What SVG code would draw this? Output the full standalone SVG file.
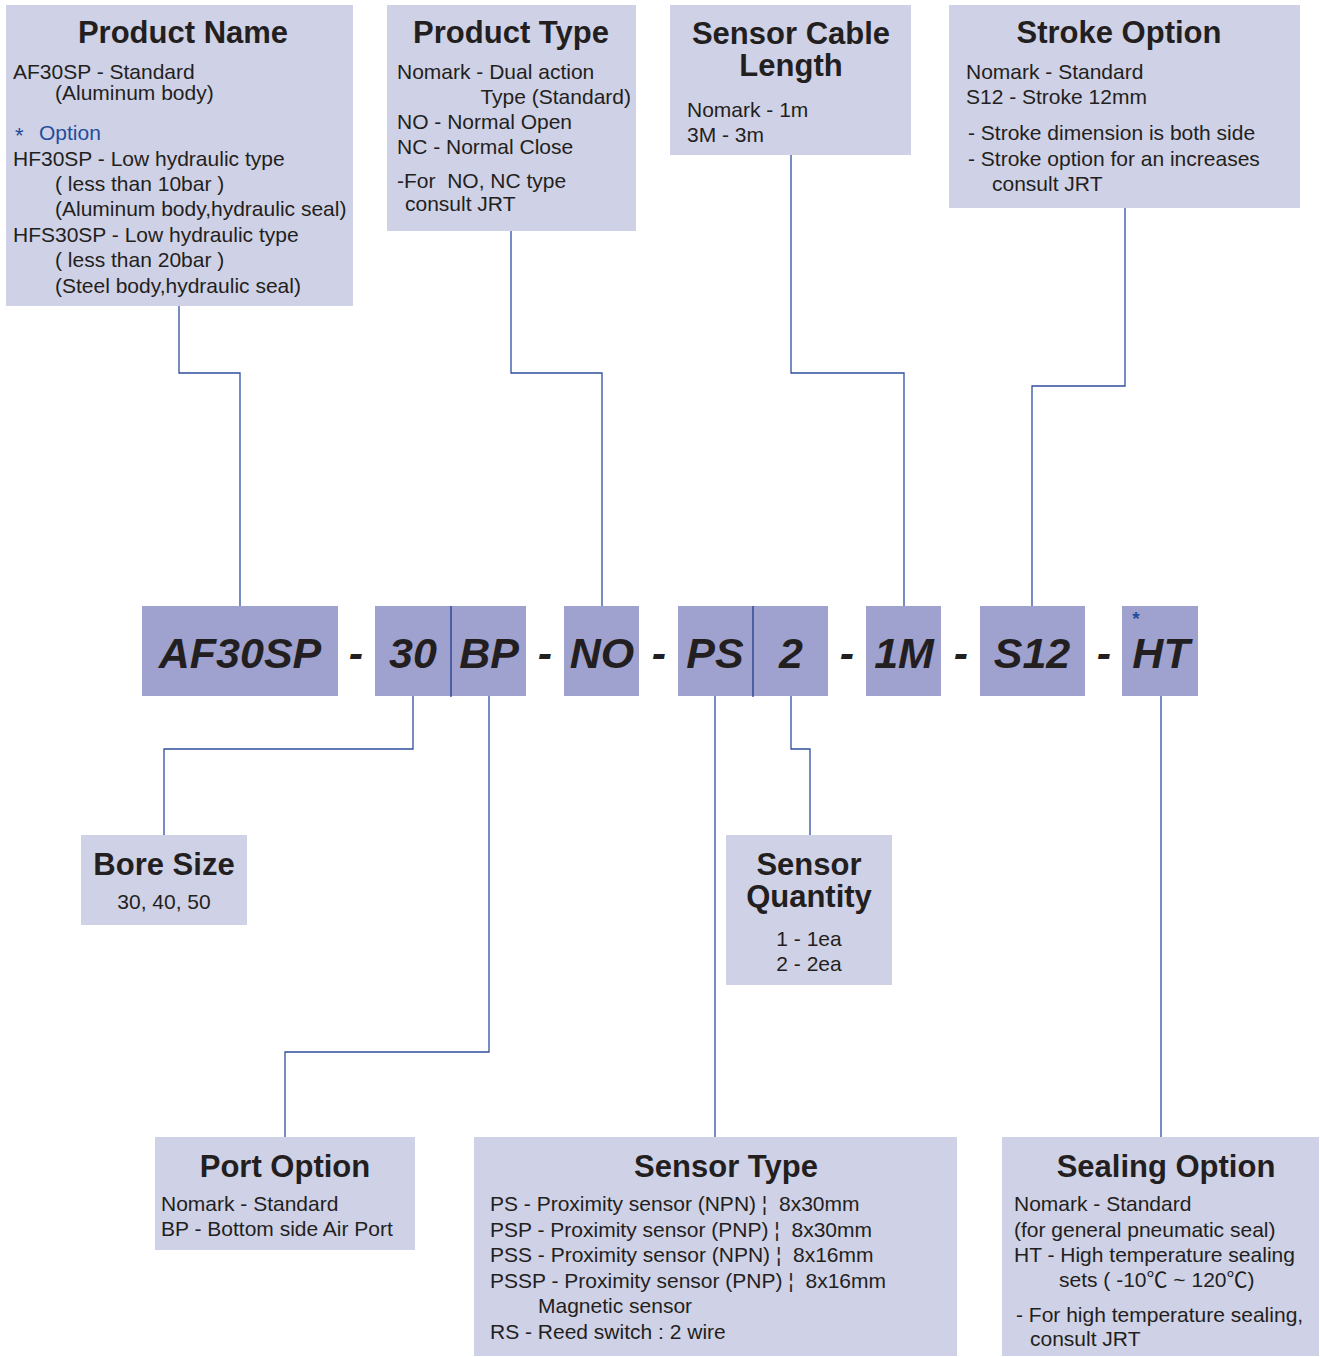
<svg xmlns="http://www.w3.org/2000/svg" width="1320" height="1357" viewBox="0 0 1320 1357">
<style>
.box{fill:#cfd1e6}
.code{fill:#9fa2cf}
.t{font-family:"Liberation Sans",Arial,sans-serif;font-weight:bold;font-size:31px;fill:#231f20;text-anchor:middle}
.b{font-family:"Liberation Sans",Arial,"Noto Sans CJK SC",sans-serif;font-size:21px;fill:#231f20;white-space:pre}
.c{text-anchor:middle}
.m{font-family:"Liberation Sans",Arial,sans-serif;font-weight:bold;font-style:italic;font-size:43px;fill:#231f20;text-anchor:middle}
.blue{fill:#1f4e9c}
.ln{fill:none;stroke:#2e4f9f;stroke-width:1.3}
.div{stroke:#1f3c8c;stroke-width:1.3}
</style>
<rect width="1320" height="1357" fill="#ffffff"/>
<g id="connectors">
<polyline class="ln" points="179,306 179,373 240,373 240,606"/>
<polyline class="ln" points="511,231 511,373 602,373 602,606"/>
<polyline class="ln" points="791,155 791,373 904,373 904,606"/>
<polyline class="ln" points="1125,208 1125,386 1032,386 1032,606"/>
<polyline class="ln" points="413,696 413,749 164,749 164,835"/>
<polyline class="ln" points="489,696 489,1052 285,1052 285,1137"/>
<polyline class="ln" points="715,696 715,1137"/>
<polyline class="ln" points="791,696 791,749 810,749 810,835"/>
<polyline class="ln" points="1161,696 1161,1137"/>
</g>
<g id="product-name">
<rect class="box" x="6" y="5" width="347" height="301"/>
<text class="t" x="183" y="43">Product Name</text>
<text class="b" x="13" y="79">AF30SP - Standard</text>
<text class="b" x="55" y="100">(Aluminum body)</text>
<text class="b blue" x="15" y="143" style="font-size:22px">*</text>
<text class="b blue" x="39" y="140">Option</text>
<text class="b" x="13" y="166">HF30SP - Low hydraulic type</text>
<text class="b" x="55" y="191">( less than 10bar )</text>
<text class="b" x="55" y="216">(Aluminum body,hydraulic seal)</text>
<text class="b" x="13" y="242">HFS30SP - Low hydraulic type</text>
<text class="b" x="55" y="267">( less than 20bar )</text>
<text class="b" x="55" y="293">(Steel body,hydraulic seal)</text>
</g>
<g id="product-type">
<rect class="box" x="387" y="5" width="249" height="226"/>
<text class="t" x="511" y="43">Product Type</text>
<text class="b" x="397" y="79">Nomark - Dual action</text>
<text class="b" x="631" y="104" style="text-anchor:end">Type (Standard)</text>
<text class="b" x="397" y="129">NO - Normal Open</text>
<text class="b" x="397" y="154">NC - Normal Close</text>
<text class="b" x="397" y="188">-For  NO, NC type</text>
<text class="b" x="405" y="211">consult JRT</text>
</g>
<g id="sensor-cable-length">
<rect class="box" x="670" y="5" width="241" height="150"/>
<text class="t" x="791" y="44">Sensor Cable</text>
<text class="t" x="791" y="76">Length</text>
<text class="b" x="687" y="117">Nomark - 1m</text>
<text class="b" x="687" y="142">3M - 3m</text>
</g>
<g id="stroke-option">
<rect class="box" x="949" y="5" width="351" height="203"/>
<text class="t" x="1119" y="43">Stroke Option</text>
<text class="b" x="966" y="79">Nomark - Standard</text>
<text class="b" x="966" y="104">S12 - Stroke 12mm</text>
<text class="b" x="968" y="140">- Stroke dimension is both side</text>
<text class="b" x="968" y="166">- Stroke option for an increases</text>
<text class="b" x="992" y="191">consult JRT</text>
</g>
<g id="code">
<rect class="code" x="142" y="606" width="196" height="90"/>
<text class="m" x="240" y="668">AF30SP</text>
<text class="m" x="356" y="668">-</text>
<rect class="code" x="375" y="606" width="151" height="90"/>
<line class="div" x1="451" y1="606" x2="451" y2="697"/>
<text class="m" x="413" y="668">30</text>
<text class="m" x="489" y="668">BP</text>
<text class="m" x="545" y="668">-</text>
<rect class="code" x="564" y="606" width="75" height="90"/>
<text class="m" x="602" y="668">NO</text>
<text class="m" x="659" y="668">-</text>
<rect class="code" x="678" y="606" width="150" height="90"/>
<line class="div" x1="753" y1="606" x2="753" y2="697"/>
<text class="m" x="715" y="668">PS</text>
<text class="m" x="791" y="668">2</text>
<text class="m" x="847" y="668">-</text>
<rect class="code" x="866" y="606" width="75" height="90"/>
<text class="m" x="904" y="668">1M</text>
<text class="m" x="961" y="668">-</text>
<rect class="code" x="980" y="606" width="105" height="90"/>
<text class="m" x="1032" y="668">S12</text>
<text class="m" x="1104" y="668">-</text>
<rect class="code" x="1122" y="606" width="76" height="90"/>
<text class="m" x="1161" y="668">HT</text>
<text class="m blue" x="1136" y="625" style="font-size:19px;font-style:normal">*</text>
</g>
<g id="bore-size">
<rect class="box" x="81" y="835" width="166" height="90"/>
<text class="t" x="164" y="875">Bore Size</text>
<text class="b c" x="164" y="909">30, 40, 50</text>
</g>
<g id="sensor-quantity">
<rect class="box" x="726" y="835" width="166" height="150"/>
<text class="t" x="809" y="875">Sensor</text>
<text class="t" x="809" y="907">Quantity</text>
<text class="b c" x="809" y="946">1 - 1ea</text>
<text class="b c" x="809" y="971">2 - 2ea</text>
</g>
<g id="port-option">
<rect class="box" x="155" y="1137" width="260" height="113"/>
<text class="t" x="285" y="1177">Port Option</text>
<text class="b" x="161" y="1211">Nomark - Standard</text>
<text class="b" x="161" y="1236">BP - Bottom side Air Port</text>
</g>
<g id="sensor-type">
<rect class="box" x="474" y="1137" width="483" height="219"/>
<text class="t" x="726" y="1177">Sensor Type</text>
<text class="b" x="490" y="1211">PS - Proximity sensor (NPN) ¦  8x30mm</text>
<text class="b" x="490" y="1237">PSP - Proximity sensor (PNP) ¦  8x30mm</text>
<text class="b" x="490" y="1262">PSS - Proximity sensor (NPN) ¦  8x16mm</text>
<text class="b" x="490" y="1288">PSSP - Proximity sensor (PNP) ¦  8x16mm</text>
<text class="b" x="538" y="1313">Magnetic sensor</text>
<text class="b" x="490" y="1339">RS - Reed switch : 2 wire</text>
</g>
<g id="sealing-option">
<rect class="box" x="1002" y="1137" width="317" height="219"/>
<text class="t" x="1166" y="1177">Sealing Option</text>
<text class="b" x="1014" y="1211">Nomark - Standard</text>
<text class="b" x="1014" y="1237">(for general pneumatic seal)</text>
<text class="b" x="1014" y="1262">HT - High temperature sealing</text>
<text class="b" x="1059" y="1287">sets ( -10℃ ~ 120℃)</text>
<text class="b" x="1016" y="1322">- For high temperature sealing,</text>
<text class="b" x="1030" y="1346">consult JRT</text>
</g>
</svg>
